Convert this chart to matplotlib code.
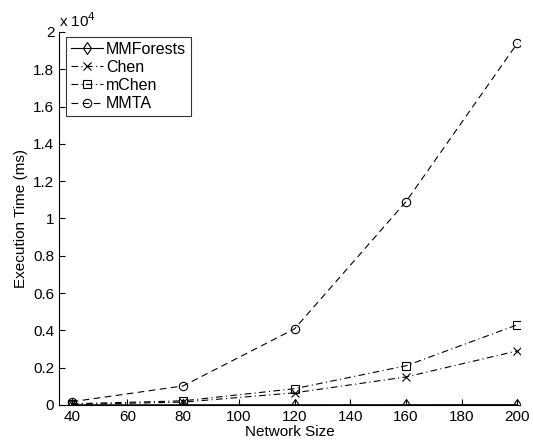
import matplotlib
matplotlib.use("Agg")
import matplotlib.pyplot as plt

plt.rcParams['font.family'] = ['Liberation Sans', 'DejaVu Sans']

sizes = [40, 80, 120, 160, 200]
mmforests = [5, 8, 10, 12, 15]
chen = [30, 150, 650, 1500, 2900]
mchen = [60, 220, 870, 2100, 4300]
mmta = [170, 1020, 4080, 10900, 19400]

fig = plt.figure(figsize=(5.33, 4.44), dpi=100)
ax = fig.add_axes([0.111, 0.088, 0.865, 0.84])

kw = dict(color="black", lw=0.8, markersize=6, markerfacecolor="none", markeredgewidth=0.8)
ax.plot(sizes, mmforests, "-", marker="d", label="MMForests", **kw)
ax.plot(sizes, chen, marker="x", dashes=(6, 3, 1, 3), label="Chen", **kw)
ax.plot(sizes, mchen, marker="s", dashes=(6, 3, 1, 3), label="mChen", **kw)
ax.plot(sizes, mmta, marker="o", dashes=(6, 4), label="MMTA", **kw)

ax.set_xlim(35.5, 201)
ax.set_ylim(0, 20000)
ax.set_xticks([40, 60, 80, 100, 120, 140, 160, 180, 200])
ax.set_yticks([0, 2000, 4000, 6000, 8000, 10000, 12000, 14000, 16000, 18000, 20000])
ax.set_yticklabels(["0", "0.2", "0.4", "0.6", "0.8", "1", "1.2", "1.4", "1.6", "1.8", "2"])
ax.text(0, 1.005, r"x 10$^4$", transform=ax.transAxes, fontsize=11, va="bottom")
ax.tick_params(direction="in", labelsize=11, length=4, width=0.8)
ax.spines["top"].set_visible(False)
ax.spines["right"].set_visible(False)
ax.set_xlabel("Network Size", fontsize=11, labelpad=1)
ax.set_ylabel("Execution Time (ms)", fontsize=11)

leg = ax.legend(loc="upper left", bbox_to_anchor=(0.005, 1.0), fancybox=False,
                edgecolor="black", fontsize=11.5, handlelength=2.0, borderpad=0.3,
                labelspacing=0.2, handletextpad=0.2, borderaxespad=0.3)
leg.get_frame().set_linewidth(0.8)

fig.savefig("out.png", dpi=100)
